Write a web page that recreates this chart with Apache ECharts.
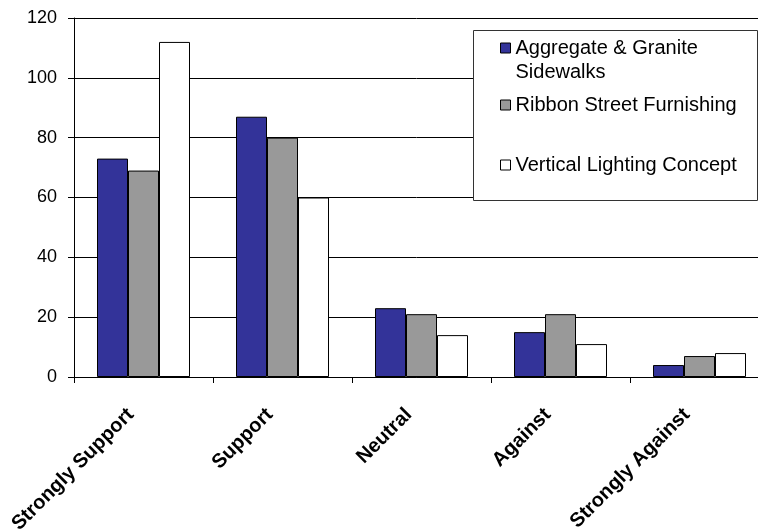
<!DOCTYPE html>
<html>
<head>
<meta charset="utf-8">
<script src="https://cdn.jsdelivr.net/npm/echarts@6/dist/echarts.min.js"></script>
<style>
  html, body { margin: 0; padding: 0; background: #fff; }
  #chart { width: 758px; height: 529px; }
</style>
</head>
<body>
<div id="chart"></div>
<script>
// Survey responses per design concept
const categories = ['Strongly Support', 'Support', 'Neutral', 'Against', 'Strongly Against'];
const seriesNames = ['Aggregate & Granite Sidewalks', 'Ribbon Street Furnishing', 'Vertical Lighting Concept'];
const sidewalks = [73, 87, 23, 15, 4];
const furnishing = [69, 80, 21, 21, 7];
const lighting = [112, 60, 14, 11, 8];
const yTicks = [0, 20, 40, 60, 80, 100, 120];

const colors = ['#333399', '#999999', '#ffffff'];
const values = [sidewalks, furnishing, lighting];
const FONT = '"Liberation Sans", Arial, sans-serif';

const chart = echarts.init(document.getElementById('chart'), null, { renderer: 'canvas' });

const legendBase = {
  orient: 'vertical',
  left: 500,
  padding: 0,
  itemWidth: 10,
  itemHeight: 10,
  icon: 'rect',
  selectedMode: false,
  itemStyle: { borderColor: '#000', borderWidth: 1 },
  textStyle: { fontFamily: FONT, fontSize: 20, color: '#000', lineHeight: 24 }
};

chart.setOption({
  animation: false,
  backgroundColor: '#fff',
  grid: {
    left: 74,
    top: 18,
    width: 695,
    height: 359,
    containLabel: false,
    outerBoundsMode: 'none'
  },
  legend: [
    // leading blank line keeps the swatch level with the first text line
    Object.assign({}, legendBase, {
      top: 12,
      data: [seriesNames[0]],
      formatter: () => '\nAggregate & Granite\nSidewalks'
    }),
    Object.assign({}, legendBase, { top: 93, data: [seriesNames[1]] }),
    Object.assign({}, legendBase, { top: 153, data: [seriesNames[2]] })
  ],
  graphic: [{
    type: 'rect',
    z: 1,
    shape: { x: 473.5, y: 30.5, width: 284, height: 170 },
    style: { fill: '#fff', stroke: '#333', lineWidth: 1 }
  }],
  xAxis: {
    type: 'category',
    data: categories,
    boundaryGap: true,
    axisLine: { show: true, lineStyle: { color: '#000', width: 1 } },
    axisTick: { show: true, inside: false, length: 6, alignWithLabel: false, lineStyle: { color: '#000' } },
    axisLabel: {
      rotate: 45,
      interval: 0,
      margin: 22,
      padding: [0, 18, 0, 0],
      fontFamily: FONT,
      fontSize: 20,
      fontWeight: 'bold',
      color: '#000'
    },
    splitLine: { show: false }
  },
  yAxis: {
    type: 'value',
    min: yTicks[0],
    max: yTicks[yTicks.length - 1],
    interval: 20,
    axisLine: { show: true, lineStyle: { color: '#000', width: 1 } },
    axisTick: { show: true, inside: false, length: 6, lineStyle: { color: '#000' } },
    axisLabel: { margin: 17, fontFamily: FONT, fontSize: 18, color: '#000' },
    splitLine: { show: true, lineStyle: { color: '#000', width: 1 } }
  },
  series: seriesNames.map((name, i) => ({
    name: name,
    type: 'bar',
    data: values[i],
    barWidth: 31,
    barGap: '0%',
    z: 2,
    itemStyle: { color: colors[i], borderColor: '#000', borderWidth: 1 }
  }))
});
</script>
</body>
</html>
